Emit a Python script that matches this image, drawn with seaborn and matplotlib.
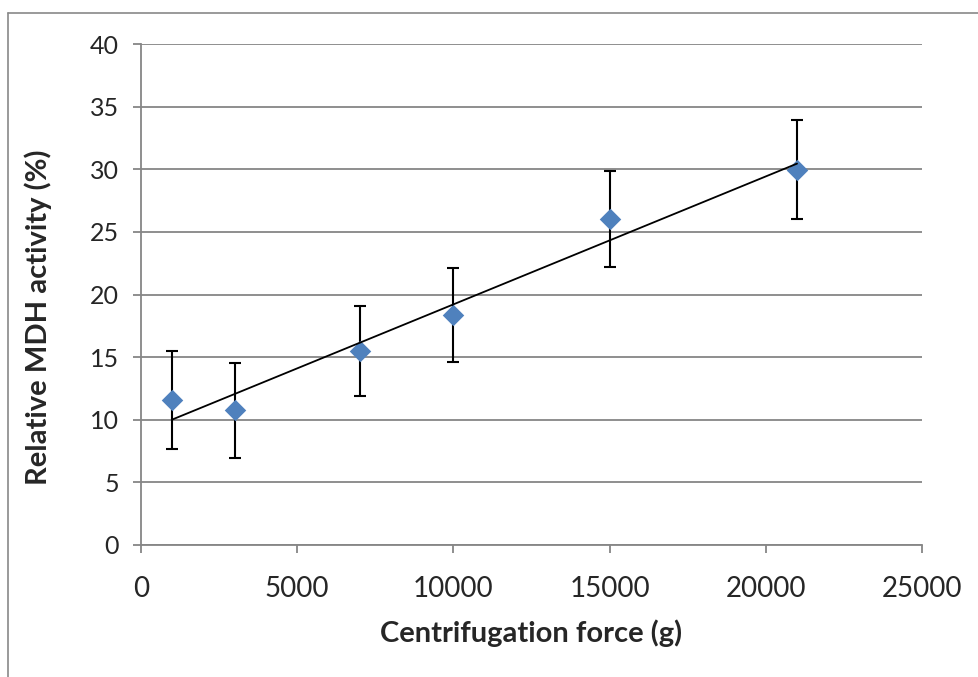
import matplotlib
matplotlib.use("Agg")
import matplotlib.pyplot as plt
from matplotlib.lines import Line2D
import seaborn as sns
import pandas as pd

# values
force = [1000, 3000, 7000, 10000, 15000, 21000]
activity = [11.6, 10.75, 15.5, 18.35, 26.05, 29.95]
activity_err = [3.9, 3.77, 3.62, 3.75, 3.82, 3.95]

df = pd.DataFrame({"force": force, "activity": activity})

sns.set_style("white")
plt.rcParams["font.family"] = ["Lato", "DejaVu Sans"]

grey = "#868686"
blue = "#4F81BD"

fig = plt.figure(figsize=(9.79, 6.77), dpi=100)
ax = fig.add_axes([141 / 979, 1 - 545 / 677, 781 / 979, 501 / 677])

# error bars under the markers
ax.errorbar(force, activity, yerr=activity_err, fmt="none", ecolor="black",
            elinewidth=1.5, capsize=4, capthick=1.5, zorder=3)

sns.scatterplot(data=df, x="force", y="activity", marker="D", s=120,
                color=blue, edgecolor=blue, linewidth=0, ax=ax, zorder=4)

# linear trendline
sns.regplot(data=df, x="force", y="activity", scatter=False, ci=None,
            line_kws={"color": "black", "linewidth": 1.3, "zorder": 5}, ax=ax)

ax.set_xlim(0, 25000)
ax.set_ylim(0, 40)
ax.set_xticks(range(0, 25001, 5000))
ax.set_yticks(range(0, 41, 5))

ax.yaxis.grid(True, color=grey, linewidth=1.3)
ax.xaxis.grid(False)
ax.set_axisbelow(True)

for side in ["top", "right"]:
    ax.spines[side].set_visible(False)
for side in ["left", "bottom"]:
    ax.spines[side].set_color(grey)
    ax.spines[side].set_linewidth(1.3)

ax.tick_params(axis="both", direction="out", length=6, width=1.3, color=grey)
ax.tick_params(axis="x", labelsize=20, pad=16, bottom=True)
ax.tick_params(axis="y", labelsize=18, pad=10, left=True)

ax.set_xlabel("Centrifugation force (g)", fontsize=21, fontweight="bold", labelpad=13)
ax.set_ylabel("Relative MDH activity (%)", fontsize=21, fontweight="bold")
ax.yaxis.set_label_coords(-0.1135, 0.454)

# outer chart-area border (only top and left visible in the crop)
fig.add_artist(Line2D([8 / 979, 1], [1 - 13 / 677, 1 - 13 / 677],
                      transform=fig.transFigure, color="#898989", linewidth=1.2))
fig.add_artist(Line2D([8 / 979, 8 / 979], [0, 1 - 13 / 677],
                      transform=fig.transFigure, color="#898989", linewidth=1.2))

fig.savefig("out.png", dpi=100)
